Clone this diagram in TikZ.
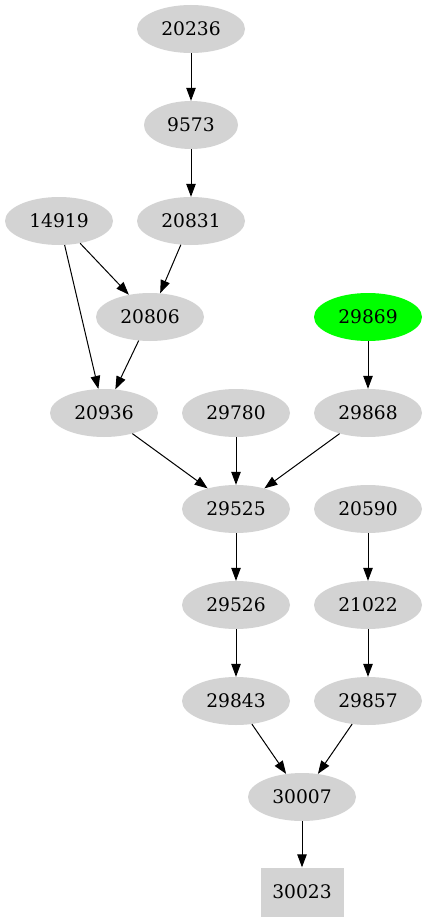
\documentclass[tikz,border=0pt]{standalone}
\usepackage{fontspec}
\setmainfont{DejaVu Serif}
\usetikzlibrary{shapes.geometric,arrows.meta}
\definecolor{nodegray}{RGB}{211,211,211}
\definecolor{startgreen}{RGB}{0,255,0}

\begin{document}
\begin{tikzpicture}[x=1pt,y=1pt,
    gnode/.style={ellipse,fill=nodegray,draw=none,minimum width=108pt,minimum height=48pt,
      inner sep=0pt,font=\fontsize{18.67}{22}\selectfont},
    gbox/.style={rectangle,fill=nodegray,draw=none,minimum width=83pt,minimum height=49pt,
      inner sep=0pt,font=\fontsize{18.67}{22}\selectfont},
    garrow/.style={-{Triangle[length=13pt,width=9.5pt]},line width=1pt}]
    \useasboundingbox (0,0) rectangle (427,-923);
    % nodes
    \foreach \n/\x/\y in {20236/191/29, 20831/191/221, 14919/59/221, 20806/150/317,
      20936/104/413, 29780/236/413, 29868/368/413, 29525/236/509, 20590/368/509,
      29526/236/605, 21022/368/605, 29843/236/701, 29857/368/701, 30007/302/797} {
      \node[gnode] (n\n) at (\x,-\y) {\n};
    }
    \node[gnode,minimum width=94pt] (n9573) at (191,-125) {9573};
    \node[gnode,fill=startgreen] (n29869) at (368,-317) {29869};
    \node[gbox] (n30023) at (302,-892) {30023};
    % edges
    \foreach \a/\b in {20236/9573, 9573/20831, 20831/20806, 14919/20806, 14919/20936,
      20806/20936, 20936/29525, 29780/29525, 29868/29525, 29869/29868, 29525/29526,
      29526/29843, 20590/21022, 21022/29857, 29843/30007, 29857/30007, 30007/30023} {
      \draw[garrow] (n\a) -- (n\b);
    }
\end{tikzpicture}
\end{document}
